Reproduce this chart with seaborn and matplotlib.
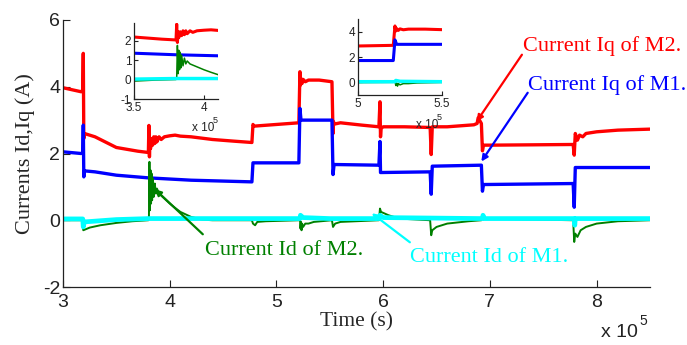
import matplotlib
matplotlib.use("Agg")
import matplotlib.pyplot as plt
import seaborn as sns
import pandas as pd

# ---- data (time in units of 1e5 s, currents in A) ----
t_iq2 = [3.0, 3.17, 3.185, 3.19, 3.195, 3.2, 3.3, 3.5, 3.7, 3.80, 3.805, 3.81, 3.815, 3.82, 3.83, 3.84,
         3.85, 3.86, 3.87, 3.88, 3.9, 3.92, 3.95, 4.0, 4.05, 4.1, 4.2, 4.4, 4.6, 4.77, 4.78, 4.79,
         5.0, 5.21, 5.22, 5.225, 5.23, 5.24, 5.25, 5.27, 5.3, 5.4, 5.52, 5.53, 5.535, 5.54, 5.6,
         5.8, 5.96, 5.97, 5.975, 5.98, 6.0, 6.2, 6.44, 6.45, 6.46, 6.6, 6.85, 6.88, 6.89, 6.92,
         6.93, 6.94, 7.0, 7.4, 7.78, 7.79, 7.8, 7.82, 7.84, 7.87, 7.9, 8.0, 8.2, 8.5]
iq2 = [3.97, 3.85, 3.9, 5.0, 2.45, 2.6, 2.5, 2.18, 2.07, 2.03, 2.84, 1.9, 2.45, 2.15, 2.45, 2.25,
       2.5, 2.3, 2.5, 2.35, 2.5, 2.42, 2.5, 2.53, 2.55, 2.52, 2.5, 2.42, 2.37, 2.33, 2.87, 2.82,
       2.87, 2.92, 4.45, 4.05, 4.25, 4.1, 4.22, 4.15, 4.2, 4.2, 4.15, 2.6, 2.95, 2.88, 2.92,
       2.85, 2.8, 3.55, 2.5, 2.75, 2.8, 2.8, 2.78, 1.97, 2.8, 2.8, 2.86, 2.9, 3.07, 2.9,
       2.08, 2.25, 2.25, 2.26, 2.27, 1.95, 2.6, 2.4, 2.55, 2.5, 2.6, 2.65, 2.7, 2.73]

t_iq1 = [3.0, 3.17, 3.185, 3.19, 3.195, 3.2, 3.3, 3.5, 3.8, 4.2, 4.77, 4.78, 5.21, 5.22, 5.23,
         5.52, 5.53, 5.54, 5.96, 5.97, 5.975, 6.44, 6.45, 6.46, 6.92, 6.93, 6.94, 7.78, 7.79,
         7.80, 8.5]
iq1 = [2.05, 2.0, 2.02, 2.85, 1.3, 1.48, 1.45, 1.35, 1.27, 1.2, 1.15, 1.72, 1.72, 3.35, 3.0,
       3.0, 1.37, 1.67, 1.65, 2.36, 1.43, 1.45, 0.78, 1.62, 1.65, 0.87, 1.07, 1.1, 0.39,
       1.58, 1.58]

t_id2 = [3.0, 3.185, 3.19, 3.25, 3.35, 3.5, 3.65, 3.8, 3.805, 3.81, 3.815, 3.82, 3.825, 3.83,
         3.835, 3.84, 3.85, 3.86, 3.87, 3.88, 3.9, 3.95, 4.0, 4.05, 4.1, 4.2, 4.3, 4.4, 4.77,
         4.78, 4.8, 4.82, 4.9, 5.21, 5.22, 5.225, 5.23, 5.235, 5.24, 5.25, 5.27, 5.3, 5.35,
         5.52, 5.53, 5.55, 5.6, 5.96, 5.97, 5.98, 6.05, 6.15, 6.44, 6.45, 6.46, 6.5, 6.6, 6.8,
         6.92, 6.93, 6.95, 7.78, 7.79, 7.8, 7.82, 7.85, 7.9, 8.0, 8.2, 8.5]
id2 = [0.0, 0.0, -0.3, -0.22, -0.15, -0.08, -0.03, 0.0, 0.05, 1.75, 0.3, 1.5, 0.5, 1.4,
       0.6, 1.25, 0.7, 1.1, 0.8, 0.95, 0.8, 0.65, 0.5, 0.37, 0.25, 0.1, 0.02, 0.0, 0.0,
       -0.1, -0.15, -0.05, -0.03, 0.0, 0.1, -0.25, -0.05, -0.3, -0.1, -0.2, -0.1, -0.1, -0.05,
       0.0, -0.2, -0.1, -0.05, 0.0, 0.35, 0.25, 0.15, 0.05, 0.0, -0.45, -0.3, -0.2, -0.1, -0.03,
       0.0, 0.15, 0.05, 0.0, -0.65, -0.4, -0.5, -0.3, -0.2, -0.1, -0.03, 0.0]

t_id1 = [3.0, 3.185, 3.19, 3.2, 3.5, 3.8, 5.22, 5.225, 5.25, 5.5, 5.96, 5.97, 6.0, 6.93, 6.935,
         6.95, 7.79, 7.795, 7.8, 8.5]
id1 = [0.04, 0.04, -0.2, -0.05, 0.02, 0.05, 0.05, 0.15, 0.08, 0.05, 0.05, 0.15, 0.08, 0.05, 0.15,
       0.05, 0.05, -0.15, 0.05, 0.05]

series = [
    ("Current Iq of M2.", t_iq2, iq2, "#ff0000"),
    ("Current Iq of M1.", t_iq1, iq1, "#0000ff"),
    ("Current Id of M2.", t_id2, id2, "#008000"),
    ("Current Id of M1.", t_id1, id1, "#00ffff"),
]

main_xticks = [3, 4, 5, 6, 7, 8]
main_yticks = [-2, 0, 2, 4, 6]

sns.set_style("ticks")
plt.rcParams["font.family"] = ["Liberation Sans", "DejaVu Sans"]
plt.rcParams["axes.unicode_minus"] = False
plt.rcParams["xtick.direction"] = "in"
plt.rcParams["ytick.direction"] = "in"

W, H = 687, 345
fig = plt.figure(figsize=(W / 100, H / 100), dpi=100)


def box(l, t, r, b):
    return [l / W, 1 - b / H, (r - l) / W, (b - t) / H]


def style(ax, fs, length):
    for s in ["top", "right"]:
        ax.spines[s].set_visible(False)
    for s in ["left", "bottom"]:
        ax.spines[s].set_color("#222222")
        ax.spines[s].set_linewidth(0.9)
    ax.tick_params(labelsize=fs, length=length, width=0.8, colors="#222222", pad=2)


ax = fig.add_axes(box(63, 20, 650, 287))
lws = [2.4, 2.4, 1.4, 3.4]
for (name, t, v, c), lw in zip(series, lws):
    sns.lineplot(x=t, y=v, color=c, lw=lw, sort=False, estimator=None, ax=ax)
ax.set_xlim(3, 8.5)
ax.set_ylim(-2, 6)
ax.set_xticks(main_xticks)
ax.set_xticklabels([str(v) for v in main_xticks])
ax.set_yticks(main_yticks)
ax.set_yticklabels([str(v) for v in main_yticks])
style(ax, 14, 5)
ax.tick_params(axis="x", pad=5)
ax.set_xlabel("Time (s)", family=["Liberation Serif"], fontsize=15.5, labelpad=1)
ax.set_ylabel("Currents Id,Iq (A)", family=["Liberation Serif"], fontsize=16, labelpad=6)
fig.text(601 / W, 1 - 337 / H, "x 10", fontsize=14, ha="left", va="baseline", color="#222222")
fig.text(639 / W, 1 - 325 / H, "5", fontsize=10, ha="left", va="baseline", color="#222222")

# annotations
serif = ["Liberation Serif"]
ann = [
    ("Current Iq of M2.", (7.31, 5.07), (7.30, 4.96), (6.876, 2.96), "#ff0000"),
    ("Current Iq of M1.", (7.354, 3.91), (7.354, 3.82), (6.92, 1.76), "#0000ff"),
    ("Current Id of M2.", (4.33, -1.04), (4.31, -0.42), (3.861, 0.93), "#008000"),
    ("Current Id of M1.", (6.25, -1.25), (6.25, -0.66), (5.893, 0.21), "#00ffff"),
]
for txt, tpos, start, head, c in ann:
    ax.text(tpos[0], tpos[1], txt, color=c, family=serif, fontsize=16, ha="left", va="baseline")
    ax.annotate("", xy=head, xytext=start,
                arrowprops=dict(arrowstyle="-|>", color=c, lw=1.6, mutation_scale=9,
                                shrinkA=0, shrinkB=0))

# insets
ins_lws = [2.2, 2.2, 1.1, 2.5]
ax1 = fig.add_axes(box(134, 23, 218, 99))
for (name, t, v, c), lw in zip(series, ins_lws):
    sns.lineplot(x=t, y=v, color=c, lw=lw, sort=False, estimator=None, ax=ax1)
ax1.set_xlim(3.5, 4.1)
ax1.set_ylim(-1, 2.9)
ax1.set_xticks([3.5, 4])
ax1.set_xticklabels(["3.5", "4"])
ax1.set_yticks([-1, 0, 1, 2])
ax1.set_yticklabels(["-1", "0", "1", "2"])
style(ax1, 8.5, 3)
fig.text(192 / W, 1 - 131 / H, "x 10", fontsize=8.5, ha="left", va="baseline", color="#222222")
fig.text(213 / W, 1 - 123 / H, "5", fontsize=6.5, ha="left", va="baseline", color="#222222")

ax2 = fig.add_axes(box(358, 19, 442, 95))
for (name, t, v, c), lw in zip(series, ins_lws):
    sns.lineplot(x=t, y=v, color=c, lw=lw, sort=False, estimator=None, ax=ax2)
ax2.set_xlim(5, 5.5)
ax2.set_ylim(-1, 5)
ax2.set_xticks([5, 5.5])
ax2.set_xticklabels(["5", "5.5"])
ax2.set_yticks([0, 2, 4])
ax2.set_yticklabels(["0", "2", "4"])
style(ax2, 8.5, 3)
fig.text(416 / W, 1 - 128 / H, "x 10", fontsize=8.5, ha="left", va="baseline", color="#222222")
fig.text(437 / W, 1 - 120 / H, "5", fontsize=6.5, ha="left", va="baseline", color="#222222")

for a in (ax1, ax2):
    a.set_xlabel("")
    a.set_ylabel("")

fig.savefig("out.png", dpi=100)
